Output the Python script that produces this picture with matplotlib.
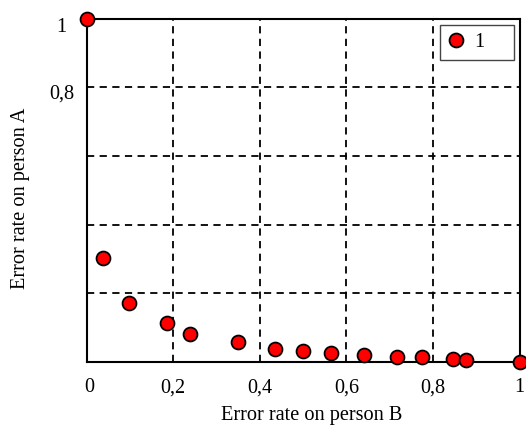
import matplotlib
matplotlib.use("Agg")
import matplotlib.pyplot as plt
import matplotlib.transforms as mtransforms

x_vals = [0.0, 0.038, 0.098, 0.186, 0.239, 0.349, 0.436, 0.500, 0.565, 0.640, 0.716, 0.775, 0.846, 0.875, 1.0]
y_vals = [1.0, 0.303, 0.170, 0.113, 0.082, 0.057, 0.038, 0.030, 0.024, 0.020, 0.015, 0.013, 0.008, 0.005, 0.0]
x_ticks = [0, 0.2, 0.4, 0.6, 0.8, 1]
x_ticklabels = ["0", "0,2", "0,4", "0,6", "0,8", "1"]
y_ticks = [0.2, 0.4, 0.6, 0.8, 1]
y_ticklabels = ["", "", "", "0,8", "1"]
series_name = "1"

plt.rcParams['font.family'] = ['Liberation Serif', 'DejaVu Serif']
FS = 14.6

fig = plt.figure(figsize=(5.26, 4.28), dpi=100)
ax = fig.add_axes([0.1648, 0.155, 0.988 - 0.1648, 0.956 - 0.155])
ax.set_xlim(0, 1)
ax.set_ylim(0, 1)
ax.set_xticks(x_ticks)
ax.set_xticklabels(x_ticklabels)
ax.set_yticks(y_ticks)
ax.set_yticklabels(y_ticklabels)
ax.tick_params(length=0, labelsize=FS)
ax.tick_params(axis='x', pad=12)
ax.tick_params(axis='y', pad=8.6)
ylabs = ax.get_yticklabels()
for lab, txt in zip(ylabs, y_ticklabels):
    if txt == "1":
        off = mtransforms.ScaledTranslation(-8 / 100, -6 / 100, fig.dpi_scale_trans)
    else:
        off = mtransforms.ScaledTranslation(0, -4 / 100, fig.dpi_scale_trans)
    lab.set_transform(lab.get_transform() + off)
xlabs = ax.get_xticklabels()
xlabs[0].set_transform(xlabs[0].get_transform() +
                       mtransforms.ScaledTranslation(3 / 100, 0, fig.dpi_scale_trans))
ax.grid(True, color='black', linestyle=(0, (4, 3)), linewidth=1.3)
for s in ax.spines.values():
    s.set_linewidth(1.5)
    s.set_zorder(3)
ax.plot(x_vals, y_vals, linestyle='none', marker='o', markersize=10,
        markerfacecolor='#ff0000', markeredgecolor='black', markeredgewidth=1.3,
        label=series_name, clip_on=False, zorder=5)
ax.set_xlabel("Error rate on person B", fontsize=FS, labelpad=6)
ax.set_ylabel("Error rate on person A", fontsize=FS, labelpad=14)
ax.xaxis.label.set_x(0.52)
ax.yaxis.label.set_y(0.476)
leg = ax.legend(loc='upper left', fontsize=FS, frameon=True, fancybox=False,
                edgecolor='#444444', framealpha=1, handlelength=0.8,
                handletextpad=0.48, borderpad=0.4, borderaxespad=0,
                mode='expand', bbox_to_anchor=(0.816, 0.871, 0.171, 0.111))
leg.get_frame().set_linewidth(1.0)
fig.savefig("out.png", dpi=100)
